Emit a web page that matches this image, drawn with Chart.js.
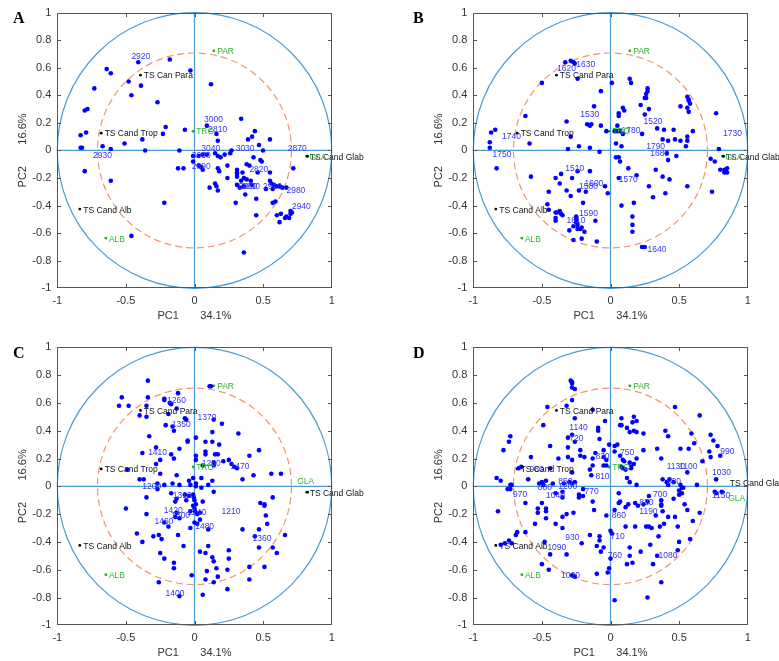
<!DOCTYPE html>
<html>
<head>
<meta charset="utf-8">
<title>PCA correlation circles</title>
<script src="https://cdn.jsdelivr.net/npm/chart.js@4.4.0/dist/chart.umd.min.js"></script>
<style>
    html, body { margin: 0; padding: 0; background: #fff; }
    #wrap { position: relative; width: 779px; height: 661px; overflow: hidden; }
    #wrap canvas { position: absolute; }
</style>
</head>
<body>
<div id="wrap">
    <canvas id="chart-A" width="390" height="330" style="left:0;top:0"></canvas>
    <canvas id="chart-B" width="389" height="330" style="left:390px;top:0"></canvas>
    <canvas id="chart-C" width="390" height="331" style="left:0;top:330px"></canvas>
    <canvas id="chart-D" width="389" height="331" style="left:390px;top:330px"></canvas>
</div>
<script>
// axes
const xTicks = [-1, -0.5, 0, 0.5, 1];
const yTicks = [-1, -0.8, -0.6, -0.4, -0.2, 0, 0.2, 0.4, 0.6, 0.8, 1];
const xTitle = 'PC1       34.1%';
const yTitle = 'PC2       16.6%';
const circleRadii = [1, 0.707];

// reference loadings (black) and group loadings (green), same in every panel
const refX = [-0.394, -0.680, -0.836, 0.824];
const refY = [0.546, 0.125, -0.425, -0.042];
const groupX = [0.141, -0.010, -0.646, 0.816];
const groupY = [0.723, 0.139, -0.636, -0.042];

const refTextA = [['TS Can Para', -0.37, 0.54], ['TS Cand Trop', -0.655, 0.12], ['TS Cand Alb', -0.81, -0.435], ['TS Cand Glab', 0.84, -0.05]];
const refTextB = [['TS Cand Para', -0.37, 0.54], ['TS Cand Trop', -0.655, 0.12], ['TS Cand Alb', -0.81, -0.435], ['TS Cand Glab', 0.84, -0.05]];
const refTextC = refTextB;
const refTextD = [['TS Cand Para', -0.37, 0.54], ['TS Cand Trop', -0.655, 0.12], ['TS Cand Alb', -0.81, -0.435], ['TS Cand Glab', 0.87, 0.019]];

const groupTextA = [['PAR', 0.165, 0.715], ['TRO', 0.012, 0.133], ['ALB', -0.624, -0.645], ['GLA', 0.838, -0.05]];
const groupTextB = groupTextA;
const groupTextC = [['PAR', 0.165, 0.715], ['TRO', 0.012, 0.133], ['ALB', -0.624, -0.645], ['GLA', 0.748, 0.036]];
const groupTextD = [['PAR', 0.165, 0.715], ['TRO', 0.012, 0.133], ['ALB', -0.624, -0.645], ['GLA', 0.858, -0.088]];

// A: 2800-3050 cm-1
const pointsA = [
    [-0.41,0.64],[-0.18,0.66],[-0.64,0.59],[-0.61,0.56],[-0.03,0.58],[-0.48,0.50],[-0.39,0.47],[0.12,0.48],[-0.73,0.45],[-0.46,0.40],
    [-0.27,0.35],[-0.80,0.29],[-0.78,0.30],[0.34,0.23],[0.09,0.18],[-0.21,0.17],[-0.23,0.12],[-0.07,0.15],[-0.79,0.13],[-0.83,0.11],
    [0.16,0.12],[0.17,0.07],[0.44,0.14],[0.42,0.10],[0.39,0.08],[0.55,0.08],[0.47,0.04],[0.50,0.00],[-0.38,0.08],[-0.51,0.05],
    [-0.67,0.03],[-0.61,0.01],[-0.83,0.02],[-0.82,0.02],[-0.36,0.00],[-0.11,0.00],[0.27,0.00],
    [-0.80,-0.15],[-0.61,-0.22],[-0.22,-0.38],[-0.46,-0.62],[0.36,-0.74],[-0.01,-0.04],[-0.01,-0.08],[0.03,-0.04],[0.06,-0.03],[0.09,-0.03],
    [0.15,-0.02],[0.17,-0.04],[0.19,-0.05],[0.22,-0.03],[0.26,-0.02],[-0.12,-0.13],[-0.08,-0.13],[0.03,-0.11],[0.05,-0.12],[0.06,-0.14],
    [0.17,-0.13],[0.18,-0.15],[0.24,-0.11],[0.31,-0.14],[0.31,-0.16],[0.31,-0.17],[0.31,-0.19],[0.38,-0.10],[0.40,-0.11],[0.43,-0.05],
    [0.48,-0.07],[0.49,-0.08],[0.46,-0.16],[0.55,-0.16],[0.35,-0.16],[0.24,-0.20],[0.34,-0.22],[0.41,-0.22],[0.38,-0.21],[0.36,-0.20],
    [0.15,-0.24],[0.16,-0.26],[0.11,-0.27],[0.17,-0.29],[0.31,-0.25],[0.33,-0.27],[0.36,-0.26],[0.42,-0.25],[0.55,-0.22],[0.56,-0.24],
    [0.58,-0.25],[0.60,-0.26],[0.52,-0.28],[0.57,-0.28],[0.62,-0.26],[0.64,-0.27],[0.67,-0.27],[0.37,-0.32],[0.45,-0.35],[0.59,-0.37],
    [0.57,-0.38],[0.30,-0.38],[0.45,-0.47],[0.60,-0.47],[0.63,-0.46],[0.62,-0.52],[0.66,-0.49],[0.67,-0.48],[0.69,-0.49],[0.70,-0.46],
    [0.71,-0.45],[0.70,-0.44],[0.72,-0.13]
];
const peaksA = [
    ['2920',-0.46,0.68],['3000',0.07,0.22],['2810',0.10,0.15],['3040',0.05,0.01],['3030',0.30,0.01],['2870',0.68,0.01],
    ['2930',-0.74,-0.04],['3050',-0.02,-0.04],['2890',-0.02,-0.12],['2820',0.40,-0.14],['2860',0.32,-0.26],['2830',0.34,-0.26],
    ['2910',0.50,-0.26],['2980',0.67,-0.29],['2940',0.71,-0.41]
];

// B: 1500-1800 cm-1
const pointsB = [
    [-0.33,0.64],[-0.29,0.65],[-0.27,0.64],[-0.26,0.63],[-0.24,0.52],[-0.50,0.49],[0.01,0.49],[0.14,0.52],[0.15,0.49],[0.27,0.45],
    [0.27,0.43],[0.26,0.41],[-0.07,0.43],[0.25,0.38],[0.26,0.38],[0.56,0.39],[0.57,0.37],[0.57,0.36],[0.51,0.32],[0.56,0.31],
    [0.58,0.34],[0.57,0.28],[0.77,0.27],[0.22,0.33],[0.28,0.30],[0.09,0.31],[0.10,0.29],[0.06,0.27],[0.06,0.25],[0.25,0.26],
    [-0.12,0.32],[-0.62,0.25],[-0.32,0.21],[-0.17,0.19],[-0.14,0.19],[-0.15,0.18],[-0.07,0.18],[0.05,0.18],[-0.84,0.15],[-0.87,0.13],
    [-0.29,0.10],[-0.03,0.14],[0.03,0.14],[0.05,0.14],[0.07,0.14],[0.09,0.12],[0.23,0.12],[0.34,0.16],[0.39,0.15],[0.46,0.15],
    [0.56,0.10],[0.56,0.07],[0.60,0.14],[0.38,0.08],[0.42,0.07],[0.47,0.08],[0.51,0.07],[0.55,0.03],[0.79,0.01],[-0.59,0.05],
    [-0.88,0.06],[-0.88,0.02],[-0.23,0.03],[-0.15,0.02],[0.04,0.05],[0.08,0.03],[-0.31,0.01],[-0.08,-0.01],[0.41,-0.02],
    [0.04,-0.05],[0.06,-0.05],[0.07,-0.08],[0.13,-0.13],[0.19,-0.18],[0.06,-0.20],[0.08,-0.40],[0.17,-0.38],[0.16,-0.48],[0.16,-0.54],
    [0.16,-0.59],[0.23,-0.70],[0.25,-0.70],[0.28,-0.26],[0.31,-0.34],[0.33,-0.14],[0.38,-0.19],[0.43,-0.21],[0.40,-0.31],[0.42,-0.07],
    [0.48,-0.04],[0.56,-0.26],[0.73,-0.06],[0.74,-0.30],[0.76,-0.08],[0.80,-0.14],[0.83,-0.14],[0.85,-0.13],[0.84,-0.15],[0.85,-0.16],
    [0.83,-0.16],[-0.83,-0.13],[-0.58,-0.19],[-0.40,-0.20],[-0.36,-0.17],[-0.37,-0.24],[-0.28,-0.20],[-0.24,-0.15],[-0.15,-0.15],[-0.45,-0.30],
    [-0.32,-0.29],[-0.29,-0.33],[-0.23,-0.29],[-0.18,-0.30],[-0.04,-0.26],[-0.02,-0.31],[-0.20,-0.38],[-0.46,-0.39],[-0.45,-0.43],[-0.40,-0.45],
    [-0.39,-0.45],[-0.37,-0.44],[-0.36,-0.46],[-0.35,-0.47],[-0.40,-0.49],[-0.40,-0.51],[-0.25,-0.48],[-0.25,-0.50],[-0.25,-0.52],[-0.24,-0.54],
    [-0.27,-0.55],[-0.24,-0.57],[-0.22,-0.57],[-0.21,-0.56],[-0.30,-0.58],[-0.19,-0.59],[-0.11,-0.51],[-0.27,-0.65],[-0.21,-0.64],[-0.10,-0.66]
];
const peaksB = [
    ['1620',-0.39,0.59],['1630',-0.25,0.62],['1530',-0.22,0.26],['1520',0.24,0.21],['1740',-0.79,0.10],['1780',0.08,0.14],
    ['1730',0.82,0.12],['1790',0.26,0.03],['1680',0.29,-0.02],['1750',-0.86,-0.03],['1510',-0.33,-0.13],['1570',0.06,-0.21],
    ['1600',-0.19,-0.24],['1580',-0.23,-0.26],['1590',-0.23,-0.46],['1610',-0.32,-0.51],['1640',0.27,-0.72]
];

// C: 1200-1480 cm-1
const pointsC = [
    [-0.34,0.76],[0.11,0.72],[0.12,0.72],[-0.53,0.64],[-0.55,0.58],[-0.48,0.58],[-0.34,0.64],[-0.22,0.63],[-0.22,0.62],[-0.12,0.67],
    [-0.18,0.60],[-0.17,0.59],[-0.35,0.58],[-0.19,0.52],[-0.13,0.56],[-0.40,0.51],[-0.35,0.50],[-0.07,0.49],[-0.06,0.48],[0.14,0.48],
    [0.20,0.45],[-0.21,0.44],[-0.15,0.40],[-0.16,0.43],[0.13,0.39],[0.32,0.38],[-0.33,0.36],[0.01,0.35],[-0.05,0.33],[-0.05,0.32],
    [0.08,0.32],[0.13,0.32],[0.18,0.30],[-0.11,0.27],[-0.28,0.28],[0.08,0.25],[0.08,0.23],[0.15,0.23],[0.17,0.23],[0.47,0.26],
    [-0.38,0.24],[-0.17,0.23],[0.40,0.22],[-0.25,0.19],[-0.28,0.16],[-0.15,0.20],[0.01,0.22],[0.01,0.19],[0.21,0.18],[0.25,0.19],
    [0.27,0.16],[0.29,0.14],[0.31,0.13],[0.06,0.15],[0.14,0.17],[0.14,0.15],[-0.25,0.09],[-0.13,0.08],[-0.49,0.12],[0.43,0.08],
    [0.56,0.09],[0.63,0.09],[0.35,0.05],[-0.40,0.05],[-0.37,0.05],[-0.04,0.04],[-0.01,0.06],[0.01,0.02],[0.05,0.06],[0.13,0.04],
    [-0.27,0.02],[-0.27,-0.02],[-0.22,0.01],[-0.16,0.02],[-0.11,0.01],[-0.03,0.01],[0.01,0.00],[0.05,-0.01],[0.10,0.01],[0.14,-0.04],
    [-0.35,-0.08],[-0.50,-0.16],[-0.35,-0.20],[-0.17,-0.05],[-0.14,-0.11],[-0.13,-0.09],[-0.07,-0.06],[-0.06,-0.10],[-0.04,-0.07],[-0.01,-0.06],
    [-0.005,-0.08],[0.00,-0.10],[0.01,-0.13],[-0.01,-0.14],[0.00,-0.16],[0.06,-0.11],[-0.13,-0.19],[-0.14,-0.22],[-0.11,-0.23],[-0.03,-0.18],
    [0.005,-0.18],[0.02,-0.20],[0.04,-0.19],[0.00,-0.26],[0.02,-0.27],[0.04,-0.24],[-0.03,-0.30],[0.10,-0.31],[-0.19,-0.29],[-0.22,-0.26],
    [-0.42,-0.34],[-0.38,-0.40],[-0.30,-0.36],[-0.26,-0.35],[-0.24,-0.38],[-0.12,-0.35],[-0.08,-0.43],[-0.25,-0.48],[-0.22,-0.52],[-0.15,-0.55],
    [-0.15,-0.59],[-0.26,-0.69],[-0.11,-0.79],[-0.02,-0.64],[0.06,-0.78],[0.04,-0.47],[0.08,-0.48],[0.10,-0.43],[0.13,-0.51],[0.14,-0.54],
    [0.16,-0.59],[0.09,-0.61],[0.17,-0.65],[0.14,-0.69],[0.08,-0.67],[0.25,-0.46],[0.25,-0.52],[0.24,-0.60],[0.24,-0.74],[0.35,-0.31],
    [0.40,-0.58],[0.40,-0.67],[0.48,-0.12],[0.51,-0.13],[0.51,-0.14],[0.52,-0.21],[0.53,-0.27],[0.47,-0.31],[0.47,-0.44],[0.51,-0.58],
    [0.44,-0.36],[0.57,-0.08],[0.57,-0.44],[0.60,-0.48],[0.66,-0.35]
];
const peaksC = [
    ['1260',-0.20,0.615],['1350',-0.165,0.447],['1370',0.022,0.495],['1410',-0.338,0.244],['1250',0.053,0.163],['1470',0.262,0.139],
    ['1200',-0.38,0.0],['1310',-0.158,-0.067],['1420',-0.224,-0.172],['1300',-0.170,-0.211],['1240',-0.053,-0.192],['1210',0.197,-0.180],
    ['1460',-0.292,-0.256],['1480',0.005,-0.290],['1360',0.423,-0.374],['1400',-0.211,-0.775]
];

// D: 700-1200 cm-1
const pointsD = [
    [-0.29,0.76],[-0.28,0.75],[-0.28,0.74],[-0.28,0.71],[-0.26,0.70],[-0.28,0.62],[-0.32,0.58],[-0.46,0.57],[0.47,0.57],[0.65,0.51],
    [-0.49,0.44],[-0.13,0.55],[-0.04,0.47],[-0.26,0.49],[0.08,0.49],[0.08,0.44],[0.17,0.50],[0.19,0.47],[0.16,0.46],[0.17,0.40],
    [0.19,0.39],[0.14,0.39],[0.12,0.42],[0.24,0.38],[0.07,0.44],[-0.09,0.42],[-0.09,0.40],[-0.08,0.34],[0.40,0.40],[0.42,0.36],
    [0.59,0.38],[0.73,0.37],[0.75,0.33],[0.78,0.29],[0.57,0.27],[0.61,0.31],[-0.73,0.36],[-0.74,0.32],[-0.78,0.26],[-0.44,0.29],
    [-0.31,0.35],[-0.28,0.37],[-0.26,0.32],[-0.22,0.26],[-0.22,0.22],[-0.19,0.21],[-0.31,0.28],[-0.01,0.30],[0.03,0.29],[0.05,0.30],
    [-0.05,0.26],[0.03,0.25],[0.07,0.22],[0.09,0.19],[0.10,0.18],[0.19,0.20],[0.17,0.16],[0.15,0.14],[0.15,0.13],[0.14,0.17],
    [0.24,0.26],[0.34,0.27],[0.37,0.20],[0.51,0.27],[0.67,0.18],[0.72,0.25],[0.73,0.21],[0.80,0.22],[0.56,0.10],[0.77,0.05],
    [-0.58,0.21],[-0.38,0.20],[-0.31,0.21],[-0.28,0.19],[-0.11,0.24],[-0.13,0.20],[-0.05,0.21],[-0.03,0.19],[-0.28,0.10],[-0.15,0.12],
    [-0.13,0.15],[-0.05,0.15],[-0.03,0.15],[-0.14,0.08],[0.08,0.14],[0.09,0.13],[0.11,0.12],[0.12,0.06],[0.14,0.03],[0.19,0.01],
    [-0.44,0.13],[-0.67,0.13],[-0.65,0.14],[-0.60,0.05],[-0.80,0.04],[-0.83,0.06],[-0.47,0.04],[-0.52,0.02],[-0.50,0.03],[-0.49,0.01],
    [-0.42,0.02],[-0.34,0.02],[-0.30,0.03],[-0.28,0.02],[-0.26,0.03],[-0.73,0.01],[0.38,0.05],[0.41,0.03],[0.43,0.05],[0.46,0.03],
    [0.52,-0.01],[0.53,-0.01],[0.63,0.01],
    [-0.72,0.01],[-0.75,-0.02],[-0.73,-0.02],[-0.62,-0.12],[-0.82,-0.18],[-0.50,-0.12],[-0.53,-0.16],[-0.53,-0.19],[-0.47,-0.18],[-0.47,-0.16],
    [-0.47,-0.23],[-0.55,-0.27],[-0.40,-0.05],[-0.35,-0.04],[-0.35,-0.08],[-0.32,-0.20],[-0.27,-0.19],[-0.35,-0.22],[-0.68,-0.33],[-0.62,-0.33],
    [-0.69,-0.35],[-0.72,-0.41],[-0.74,-0.39],[-0.77,-0.41],[-0.80,-0.42],[-0.48,-0.40],[-0.44,-0.49],[-0.50,-0.56],[-0.45,-0.60],[-0.40,-0.27],
    [-0.35,-0.30],[-0.32,-0.49],[-0.28,-0.64],[-0.26,-0.65],[-0.23,-0.06],[-0.23,-0.08],[-0.20,-0.07],[-0.20,-0.02],[-0.12,-0.17],[-0.13,-0.11],
    [-0.15,-0.35],[-0.08,-0.36],[-0.08,-0.39],[-0.21,-0.41],[-0.10,-0.43],[-0.07,-0.47],[-0.05,-0.44],[-0.03,-0.21],[-0.10,-0.63],[-0.02,-0.62],
    [-0.01,-0.59],[0.00,-0.32],[0.01,-0.34],[0.00,-0.52],[0.03,-0.82],[0.06,-0.05],[0.07,-0.11],[0.06,-0.12],[0.11,-0.15],[0.13,-0.13],
    [0.03,-0.17],[0.18,-0.12],[0.20,-0.14],[0.24,-0.13],[0.28,-0.07],[0.27,-0.11],[0.11,-0.29],[0.18,-0.29],[0.26,-0.29],[0.14,-0.44],
    [0.14,-0.50],[0.16,-0.55],[0.12,-0.56],[0.22,-0.47],[0.29,-0.42],[0.31,-0.56],[0.34,-0.50],[0.35,-0.36],[0.27,-0.80],[0.37,-0.69],
    [0.28,-0.29],[0.30,-0.30],[0.36,-0.29],[0.39,-0.27],[0.33,-0.21],[0.38,-0.18],[0.37,-0.14],[0.37,-0.10],[0.37,-0.13],[0.42,-0.22],
    [0.46,-0.09],[0.47,-0.22],[0.49,-0.29],[0.50,-0.40],[0.49,-0.46],[0.50,-0.06],[0.50,-0.03],[0.52,-0.05],[0.54,-0.13],[0.56,-0.17],
    [0.65,-0.19],[0.60,-0.25],[0.58,-0.38],[0.76,-0.04],[0.77,-0.05],[0.81,-0.04],[0.42,0.01],[0.51,0.01]
];
const peaksD = [
    ['1140',-0.30,0.42],['720',-0.30,0.34],['750',0.07,0.24],['830',-0.11,0.21],['980',-0.59,0.12],['810',-0.11,0.07],
    ['1130',0.41,0.14],['1100',0.50,0.14],['990',0.80,0.25],['1030',0.74,0.10],['920',0.41,0.03],['880',-0.53,-0.01],
    ['850',-0.38,0.03],['1200',-0.38,0.00],['970',-0.71,-0.06],['1040',-0.47,-0.07],['770',-0.19,-0.04],['700',0.31,-0.06],
    ['820',0.21,-0.12],['1190',0.21,-0.18],['1150',0.74,-0.07],['860',0.01,-0.21],['930',-0.33,-0.37],['710',0.0,-0.36],
    ['1090',-0.46,-0.44],['760',-0.02,-0.50],['1080',0.35,-0.50],['1020',-0.36,-0.64]
];

const FONT = "Arial, 'Liberation Sans', Helvetica, sans-serif";
const Y_AXIS_W = 45;
const X_AXIS_H = 35;

const panels = [
    { letter: 'A', canvas: 'chart-A', box: { left: 57.3, right: 331.7, top: 10, bottom: 288.3 }, letterX: 13,
      points: pointsA, peaks: peaksA, refText: refTextA, groupText: groupTextA },
    { letter: 'B', canvas: 'chart-B', box: { left: 83.3, right: 357.7, top: 10, bottom: 288.3 }, letterX: 23,
      points: pointsB, peaks: peaksB, refText: refTextB, groupText: groupTextB },
    { letter: 'C', canvas: 'chart-C', box: { left: 57.3, right: 331.7, top: 17.3, bottom: 295.3 }, letterX: 13,
      points: pointsC, peaks: peaksC, refText: refTextC, groupText: groupTextC },
    { letter: 'D', canvas: 'chart-D', box: { left: 83.3, right: 357.7, top: 17.3, bottom: 295.3 }, letterX: 23,
      points: pointsD, peaks: peaksD, refText: refTextD, groupText: groupTextD }
];

const toXY = (pairs) => pairs.map(([x, y]) => ({ x, y }));

function decorations(panel) {
    const drawTexts = (ctx, x, y, list, color) => {
        ctx.fillStyle = color;
        list.forEach(([t, vx, vy]) => ctx.fillText(t, x.getPixelForValue(vx), y.getPixelForValue(vy)));
    };

    return {
        id: 'decor' + panel.letter,
        beforeDatasetsDraw(chart) {
            const { ctx, chartArea: a, scales: { x, y } } = chart;
            const x0 = x.getPixelForValue(0);
            const y0 = y.getPixelForValue(0);
            const ux = x.getPixelForValue(1) - x0;
            const uy = y0 - y.getPixelForValue(1);

            ctx.save();
            ctx.lineWidth = 1.2;
            ctx.strokeStyle = '#4a9bd3';
            ctx.beginPath();
            ctx.ellipse(x0, y0, ux * circleRadii[0], uy * circleRadii[0], 0, 0, Math.PI * 2);
            ctx.stroke();
            ctx.beginPath();
            ctx.moveTo(x0, a.top);
            ctx.lineTo(x0, a.bottom);
            ctx.moveTo(a.left, y0);
            ctx.lineTo(a.right, y0);
            ctx.stroke();

            ctx.strokeStyle = '#f0956a';
            ctx.setLineDash([7, 4]);
            ctx.beginPath();
            ctx.ellipse(x0, y0, ux * circleRadii[1], uy * circleRadii[1], 0, 0, Math.PI * 2);
            ctx.stroke();
            ctx.restore();
        },
        afterDatasetsDraw(chart) {
            const { ctx, scales: { x, y } } = chart;
            ctx.save();
            ctx.textAlign = 'left';
            ctx.textBaseline = 'middle';
            ctx.font = '8.5px ' + FONT;
            drawTexts(ctx, x, y, panel.peaks, '#3535f2');
            drawTexts(ctx, x, y, panel.refText, '#111111');
            drawTexts(ctx, x, y, panel.groupText, '#2fb52f');
            ctx.restore();
        },
        afterDraw(chart) {
            const { ctx, chartArea: a, scales: { x, y } } = chart;
            const L = Math.round(a.left) + 0.5, R = Math.round(a.right) - 0.5;
            const T = Math.round(a.top) + 0.5, B = Math.round(a.bottom) - 0.5;
            const len = 3.5;

            ctx.save();
            ctx.strokeStyle = '#555555';
            ctx.lineWidth = 1;
            ctx.strokeRect(L, T, R - L, B - T);
            ctx.beginPath();
            xTicks.slice(1, -1).forEach(v => {
                const px = Math.round(x.getPixelForValue(v)) + 0.5;
                ctx.moveTo(px, B); ctx.lineTo(px, B - len);
                ctx.moveTo(px, T); ctx.lineTo(px, T + len);
            });
            yTicks.slice(1, -1).forEach(v => {
                const py = Math.round(y.getPixelForValue(v)) + 0.5;
                ctx.moveTo(L, py); ctx.lineTo(L + len, py);
                ctx.moveTo(R, py); ctx.lineTo(R - len, py);
            });
            ctx.stroke();

            ctx.fillStyle = '#000';
            ctx.font = "bold 16px 'Liberation Serif', 'Times New Roman', serif";
            ctx.textAlign = 'left';
            ctx.textBaseline = 'alphabetic';
            ctx.fillText(panel.letter, panel.letterX, a.top + 10.5);
            ctx.restore();
        }
    };
}

function renderPanel(panel) {
    const canvas = document.getElementById(panel.canvas);
    const W = canvas.width;
    const H = canvas.height;
    const box = panel.box;
    const tickFont = { family: FONT, size: 11 };

    new Chart(canvas, {
        type: 'scatter',
        data: {
            datasets: [
                {
                    data: toXY(panel.points),
                    pointRadius: 2.3,
                    backgroundColor: '#0000ff',
                    borderWidth: 0
                },
                {
                    data: refX.map((vx, i) => ({ x: vx, y: refY[i] })),
                    pointRadius: 1.4,
                    backgroundColor: '#000000',
                    borderWidth: 0
                },
                {
                    data: groupX.map((vx, i) => ({ x: vx, y: groupY[i] })),
                    pointRadius: 1.4,
                    backgroundColor: '#1faa1f',
                    borderWidth: 0
                }
            ]
        },
        options: {
            responsive: false,
            animation: false,
            events: [],
            layout: {
                padding: {
                    left: box.left - Y_AXIS_W,
                    right: W - box.right,
                    top: box.top,
                    bottom: H - box.bottom - X_AXIS_H
                }
            },
            plugins: {
                legend: { display: false },
                tooltip: { enabled: false }
            },
            scales: {
                x: {
                    type: 'linear',
                    position: 'bottom',
                    min: -1,
                    max: 1,
                    grid: { display: false, drawTicks: false },
                    border: { display: false },
                    afterBuildTicks: (scale) => { scale.ticks = xTicks.map(v => ({ value: v })); },
                    afterFit: (scale) => { scale.height = X_AXIS_H; },
                    ticks: {
                        font: tickFont,
                        color: '#333333',
                        padding: 6,
                        maxRotation: 0,
                        autoSkip: false,
                        callback: (value) => String(value)
                    },
                    title: {
                        display: true,
                        text: xTitle,
                        font: tickFont,
                        color: '#333333',
                        padding: { top: 0, bottom: 0.5 }
                    }
                },
                y: {
                    type: 'linear',
                    position: 'left',
                    min: -1,
                    max: 1,
                    grid: { display: false, drawTicks: false },
                    border: { display: false },
                    afterBuildTicks: (scale) => { scale.ticks = yTicks.map(v => ({ value: v })); },
                    afterFit: (scale) => { scale.width = Y_AXIS_W; },
                    ticks: {
                        font: tickFont,
                        color: '#333333',
                        padding: 6,
                        autoSkip: false,
                        callback: (value) => String(value)
                    },
                    title: {
                        display: true,
                        text: yTitle,
                        font: tickFont,
                        color: '#333333',
                        padding: { top: 4, bottom: 0 }
                    }
                }
            }
        },
        plugins: [decorations(panel)]
    });
}

panels.forEach(renderPanel);
</script>
</body>
</html>
